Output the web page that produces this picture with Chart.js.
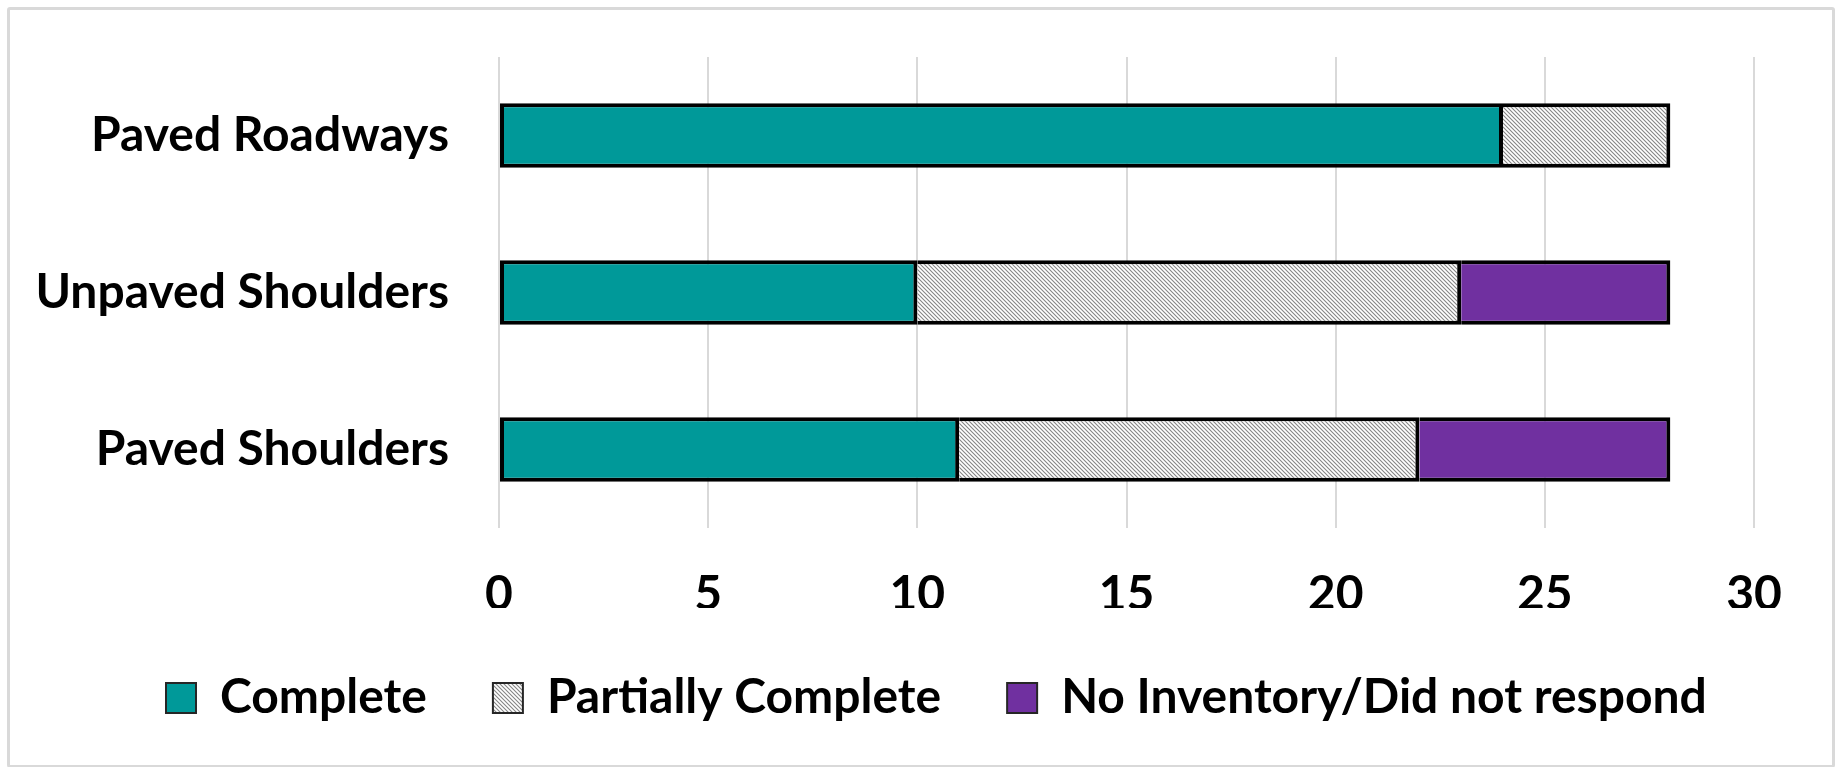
<!DOCTYPE html>
<html>
<head>
<meta charset="utf-8">
<script src="https://cdn.jsdelivr.net/npm/chart.js@4.4.0/dist/chart.umd.min.js"></script>
<style>
html, body { margin: 0; padding: 0; background: #fff; overflow: hidden; }
#chart { position: absolute; left: 0; top: 0; }
#frame { position: absolute; left: 7px; top: 7px; width: 1828px; height: 761px; box-sizing: border-box;
         border: 3px solid #d9d9d9; border-radius: 3px; pointer-events: none; }
</style>
</head>
<body>
<canvas id="chart" width="1837" height="767"></canvas>
<div id="frame"></div>
<script>
// 数据
var categories = ['Paved Roadways', 'Unpaved Shoulders', 'Paved Shoulders'];
var complete = [24, 10, 11];
var partial = [4, 13, 11];
var noInventory = [0, 5, 6];
var seriesNames = ['Complete', 'Partially Complete', 'No Inventory/Did not respond'];
var xTicks = [0, 5, 10, 15, 20, 25, 30];

var FONT = { family: 'Lato', size: 48, weight: 'bold' };

// 斜线填充
function makeHatch() {
    var c = document.createElement('canvas');
    c.width = 4; c.height = 4;
    var g = c.getContext('2d');
    g.fillStyle = '#ffffff';
    g.fillRect(0, 0, 4, 4);
    g.strokeStyle = '#858585';
    g.lineWidth = 1.1;
    g.beginPath();
    g.moveTo(-1, -1); g.lineTo(5, 5);
    g.moveTo(-1, 3); g.lineTo(1, 5);
    g.moveTo(3, -1); g.lineTo(5, 1);
    g.stroke();
    return g.createPattern(c, 'repeat');
}
var hatch = makeHatch();

var legendPad = 66;
var padLeft = 20;

// 图例左移到参考位置
var legendShift = {
    id: 'legendShift',
    afterLayout: function(c) {
        var w = c.legend.right - c.legend.left;
        c.legend.left = 166 - legendPad;
        c.legend.right = c.legend.left + w;
    }
};

var ctx = document.getElementById('chart').getContext('2d');
var chart = new Chart(ctx, {
    type: 'bar',
    data: {
        labels: categories,
        datasets: [
            { label: seriesNames[0], data: complete, backgroundColor: '#009999', borderSkipped: false },
            { label: seriesNames[1], data: partial, backgroundColor: hatch, borderSkipped: 'left' },
            { label: seriesNames[2], data: noInventory, backgroundColor: '#7030a0', borderSkipped: 'left' }
        ]
    },
    plugins: [legendShift],
    options: {
        indexAxis: 'y',
        responsive: false,
        animation: false,
        layout: { padding: { left: padLeft, right: 83, top: 57, bottom: 35 } },
        datasets: {
            bar: {
                borderColor: '#000000',
                borderWidth: 4,
                barPercentage: 0.41,
                categoryPercentage: 1.0
            }
        },
        scales: {
            x: {
                stacked: true,
                min: 0,
                max: 30,
                afterBuildTicks: function(s) { s.ticks = xTicks.map(function(v) { return { value: v }; }); },
                afterFit: function(s) { s.height = 80; s.paddingLeft = 0; s.paddingRight = 0; },
                grid: { color: '#d9d9d9', lineWidth: 2, drawTicks: false },
                border: { display: false },
                ticks: { color: '#000', font: FONT, padding: 38 }
            },
            y: {
                stacked: true,
                afterFit: function(s) { s.width = 499 - padLeft; s.paddingTop = 0; s.paddingBottom = 0; },
                grid: { display: false, drawTicks: false },
                border: { display: false },
                ticks: { color: '#000', font: FONT, padding: 50 }
            }
        },
        plugins: {
            tooltip: { enabled: false },
            legend: {
                position: 'bottom',
                align: 'start',
                labels: {
                    color: '#000',
                    font: FONT,
                    boxWidth: 30,
                    boxHeight: 30,
                    padding: legendPad,
                    generateLabels: function(chart) {
                        var items = Chart.defaults.plugins.legend.labels.generateLabels(chart);
                        items.forEach(function(it) { it.lineWidth = 2; it.strokeStyle = '#262626'; });
                        return items;
                    }
                }
            }
        }
    }
});
</script>
</body>
</html>
